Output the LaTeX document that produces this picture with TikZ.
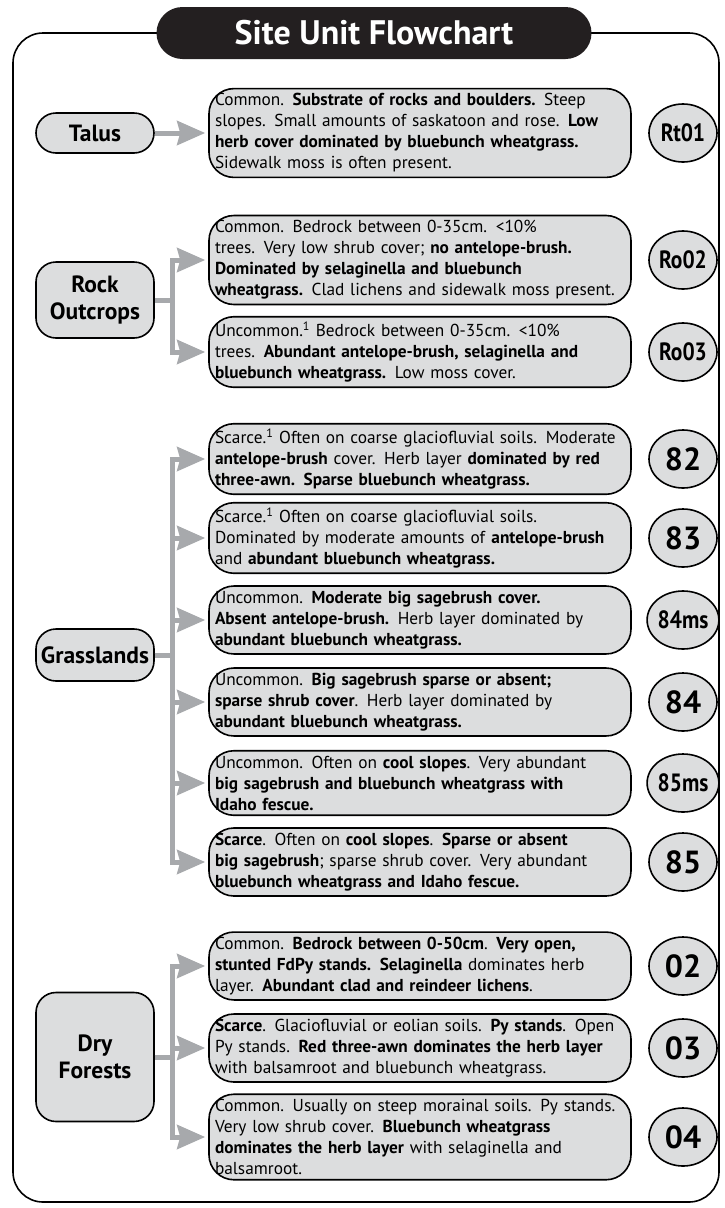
\documentclass[tikz,border=0pt]{standalone}
\usepackage{fontspec}
\setmainfont{PT Sans}
\newfontfamily\condfont{PT Sans}[FakeStretch=0.86]
\usetikzlibrary{arrows.meta,shapes.geometric}
\definecolor{boxgray}{HTML}{DCDDDE}
\definecolor{arrowgray}{HTML}{A7A9AC}
\definecolor{titleblack}{HTML}{231F20}

\begin{document}
\begin{tikzpicture}[x=1pt,y=-1pt,
	group/.style={draw, line width=1.6pt, fill=boxgray, rounded corners=20pt, minimum width=118pt, align=center, inner sep=2pt, font=\fontsize{23.5}{27}\selectfont\bfseries},
	desc/.style={draw, line width=1.6pt, fill=boxgray, rounded corners=25pt, text width=410pt, inner xsep=6pt, inner ysep=5pt, align=left, font=\fontsize{17.3}{21}\selectfont},
	unit/.style={draw, line width=1.6pt, fill=boxgray, ellipse, minimum width=68pt, minimum height=58pt, inner sep=0pt, font=\condfont\fontsize{25}{25}\selectfont\bfseries},
	bigunit/.style={unit, font=\fontsize{32}{32}\selectfont\bfseries},
	link/.style={arrowgray, line width=5pt, -{Stealth[length=28pt,width=24pt,inset=3pt]}, shorten >=3pt}]
	\useasboundingbox (0,0) rectangle (724,1208);
	% frame and title
	\draw [line width=1.6pt, rounded corners=30pt] (13,33) rectangle (719,1202);
	\node [fill=titleblack, text=white, rounded corners=26pt, minimum width=435pt, minimum height=52pt, font=\fontsize{34}{34}\selectfont\bfseries] (title) at (374,33) {Site Unit Flowchart};
	
	% talus
	\node [group, minimum height=40pt] (talus) at (95,133) {Talus};
	\node [desc] (rt01txt) at (420,133) {Common.  \textbf{Substrate of rocks and boulders.}  Steep\\ slopes.  Small amounts of saskatoon and rose.  \textbf{Low}\\ \textbf{herb cover dominated by bluebunch wheatgrass.}\\ Sidewalk moss is often present.};
	\node [unit] (rt01) at (683,133) {Rt01};
	\draw [link] (talus.east) -- (rt01txt.west);
	
	% rock outcrops
	\node [group, minimum height=76pt] (rock) at (95,300) {Rock\\Outcrops};
	\node [desc] (ro02txt) at (420,260) {Common.  Bedrock between 0-35cm.  <10\%\\ trees.  Very low shrub cover; \textbf{no antelope-brush.}\\ \textbf{Dominated by selaginella and bluebunch}\\ \textbf{wheatgrass.}  Clad lichens and sidewalk moss present.};
	\node [desc] (ro03txt) at (420,352) {Uncommon.\textsuperscript{1}  Bedrock between 0-35cm.  <10\%\\ trees.  \textbf{Abundant antelope-brush, selaginella and}\\ \textbf{bluebunch wheatgrass.}  Low moss cover.};
	\node [unit] (ro02) at (683,260) {Ro02};
	\node [unit] (ro03) at (683,352) {Ro03};
	\draw [link] (rock.east) -- ++(18,0) |- (ro02txt.west);
	\draw [link] (rock.east) -- ++(18,0) |- (ro03txt.west);
	
	% grasslands
	\node [group, minimum height=52pt] (grass) at (95,655) {Grasslands};
	\node [desc] (g82txt) at (420,459) {Scarce.\textsuperscript{1}  Often on coarse glaciofluvial soils.  Moderate\\ \textbf{antelope-brush} cover.  Herb layer \textbf{dominated by red}\\ \textbf{three-awn.  Sparse bluebunch wheatgrass.}};
	\node [desc] (g83txt) at (420,538) {Scarce.\textsuperscript{1}  Often on coarse glaciofluvial soils.\\ Dominated by moderate amounts of \textbf{antelope-brush}\\ and \textbf{abundant bluebunch wheatgrass.}};
	\node [desc] (g84mstxt) at (420,620) {Uncommon.  \textbf{Moderate big sagebrush cover.}\\ \textbf{Absent antelope-brush.}  Herb layer dominated by\\ \textbf{abundant bluebunch wheatgrass.}};
	\node [desc] (g84txt) at (420,702) {Uncommon.  \textbf{Big sagebrush sparse or absent;}\\ \textbf{sparse shrub cover}.  Herb layer dominated by\\ \textbf{abundant bluebunch wheatgrass.}};
	\node [desc] (g85mstxt) at (420,783) {Uncommon.  Often on \textbf{cool slopes}.  Very abundant\\ \textbf{big sagebrush and bluebunch wheatgrass with}\\ \textbf{Idaho fescue.}};
	\node [desc] (g85txt) at (420,862) {\textbf{Scarce}.  Often on \textbf{cool slopes}.  \textbf{Sparse or absent}\\ \textbf{big sagebrush}; sparse shrub cover.  Very abundant\\ \textbf{bluebunch wheatgrass and Idaho fescue.}};
	\node [bigunit] (g82) at (683,459) {82};
	\node [bigunit] (g83) at (683,538) {83};
	\node [unit] (g84ms) at (683,620) {84ms};
	\node [bigunit] (g84) at (683,702) {84};
	\node [unit] (g85ms) at (683,783) {85ms};
	\node [bigunit] (g85) at (683,862) {85};
	\draw [link] (grass.east) -- ++(18,0) |- (g82txt.west);
	\draw [link] (grass.east) -- ++(18,0) |- (g83txt.west);
	\draw [link] (grass.east) -- ++(18,0) |- (g84mstxt.west);
	\draw [link] (grass.east) -- ++(18,0) |- (g84txt.west);
	\draw [link] (grass.east) -- ++(18,0) |- (g85mstxt.west);
	\draw [link] (grass.east) -- ++(18,0) |- (g85txt.west);
	
	% dry forests
	\node [group, minimum height=129pt] (dry) at (95,1057) {Dry\\Forests};
	\node [desc] (d02txt) at (420,966) {Common.  \textbf{Bedrock between 0-50cm}.  \textbf{Very open,}\\ \textbf{stunted FdPy stands.  Selaginella} dominates herb\\ layer.  \textbf{Abundant clad and reindeer lichens}.};
	\node [desc] (d03txt) at (420,1048) {\textbf{Scarce}.  Glaciofluvial or eolian soils.  \textbf{Py stands}.  Open\\ Py stands.  \textbf{Red three-awn dominates the herb layer}\\ with balsamroot and bluebunch wheatgrass.};
	\node [desc] (d04txt) at (420,1137) {Common.  Usually on steep morainal soils.  Py stands.\\ Very low shrub cover.  \textbf{Bluebunch wheatgrass}\\ \textbf{dominates the herb layer} with selaginella and\\ balsamroot.};
	\node [bigunit] (d02) at (683,966) {02};
	\node [bigunit] (d03) at (683,1048) {03};
	\node [bigunit] (d04) at (683,1137) {04};
	\draw [link] (dry.east) -- ++(18,0) |- (d02txt.west);
	\draw [link] (dry.east) -- ++(18,0) |- (d03txt.west);
	\draw [link] (dry.east) -- ++(18,0) |- (d04txt.west);
\end{tikzpicture}
\end{document}
